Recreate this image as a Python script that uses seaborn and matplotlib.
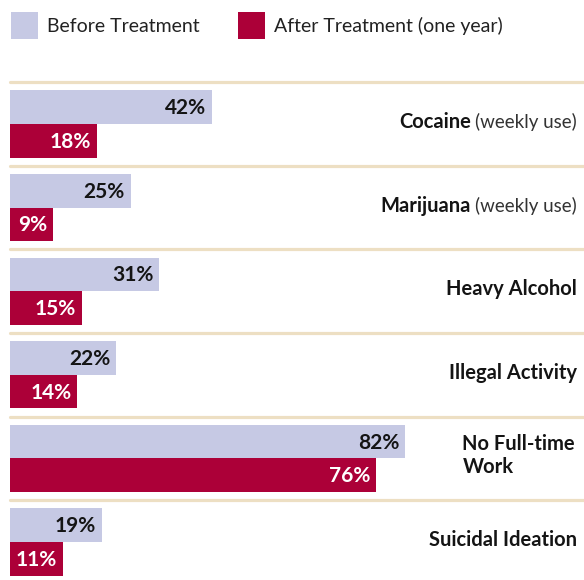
import matplotlib
matplotlib.use("Agg")
import matplotlib.pyplot as plt
import matplotlib.transforms as mtransforms
from matplotlib.patches import Patch
import pandas as pd
import seaborn as sns

# ---- data -------------------------------------------------------------
categories = ["Cocaine", "Marijuana", "Heavy Alcohol", "Illegal Activity",
              "No Full-time\nWork", "Suicidal Ideation"]
qualifiers = ["(weekly use)", "(weekly use)", "", "", "", ""]
before = [42, 25, 31, 22, 82, 19]
after = [18, 9, 15, 14, 76, 11]
series = ["Before Treatment", "After Treatment (one year)"]

# ---- style ------------------------------------------------------------
sns.set_theme(style="white")
plt.rcParams["font.family"] = ["Lato", "DejaVu Sans"]

LAVENDER = "#c6c9e4"
CRIMSON = "#ac0038"
RULE = "#eddfc3"
INK = "#141414"

W, H = 584, 580
df = pd.DataFrame({
    "category": categories * 2,
    "value": before + after,
    "period": [series[0]] * len(categories) + [series[1]] * len(categories),
})

fig = plt.figure(figsize=(W / 100, H / 100), dpi=100)
ax = fig.add_axes([0, 0, 1, 1])

sns.barplot(data=df, x="value", y="category", hue="period", orient="h",
            palette=[LAVENDER, CRIMSON], saturation=1, width=0.806, gap=0,
            legend=False, ax=ax, zorder=2, linewidth=0)

px_per_pct = 4.82
x0_px = 10
ax.set_xlim(-x0_px / px_per_pct, (W - x0_px) / px_per_pct)
pitch = 83.6
ax.set_ylim((H - 124) / pitch, -124 / pitch)
ax.axis("off")

# rules between groups
for k in range(len(categories)):
    ax.axhline(k - 0.5, xmin=x0_px / W, xmax=1, color=RULE, lw=2.3, zorder=1)

# value labels inside bar ends
for cont, vals, col in zip(ax.containers, [before, after], [INK, "white"]):
    for rect, v in zip(cont, vals):
        ax.annotate(f"{v}%", xy=(rect.get_width(), rect.get_y() + rect.get_height() / 2),
                    xytext=(-6, -1), textcoords="offset pixels", ha="right",
                    va="center", fontsize=15, fontweight="bold", color=col, zorder=3)

# category labels on the right
blend = mtransforms.blended_transform_factory(ax.transAxes, ax.transData)
renderer = fig.canvas.get_renderer()
x_right = 577 / W
for k, (name, qual) in enumerate(zip(categories, qualifiers)):
    if "\n" in name:
        ax.annotate(name, xy=(x_right, k), xycoords=blend, xytext=(-2, 3),
                    textcoords="offset pixels", ha="right", va="center",
                    multialignment="left", fontsize=14.5, fontweight="bold",
                    color=INK, linespacing=1.2)
        continue
    xb = x_right
    if qual:
        t = ax.annotate(qual, xy=(x_right, k), xycoords=blend, xytext=(0, -4),
                        textcoords="offset pixels", ha="right", va="baseline",
                        fontsize=13.5, color="#333333")
        bb = t.get_window_extent(renderer)
        xb = (bb.x0 - 4) / W
    ax.annotate(name, xy=(xb, k), xycoords=blend, xytext=(0, -4),
                textcoords="offset pixels", ha="right", va="baseline",
                fontsize=14.5, fontweight="bold", color=INK)

# legend
handles = [Patch(facecolor=LAVENDER, edgecolor="none", label=series[0]),
           Patch(facecolor=CRIMSON, edgecolor="none", label=series[1])]
fig.legend(handles=handles, loc="upper left", bbox_to_anchor=(11 / W, 1 - 12 / H),
           ncol=2, frameon=False, fontsize=14, handlelength=1.39, handleheight=1.76,
           handletextpad=0.46, columnspacing=1.96, borderpad=0, borderaxespad=0,
           labelcolor="#222222")

fig.savefig("out.png", dpi=100)
